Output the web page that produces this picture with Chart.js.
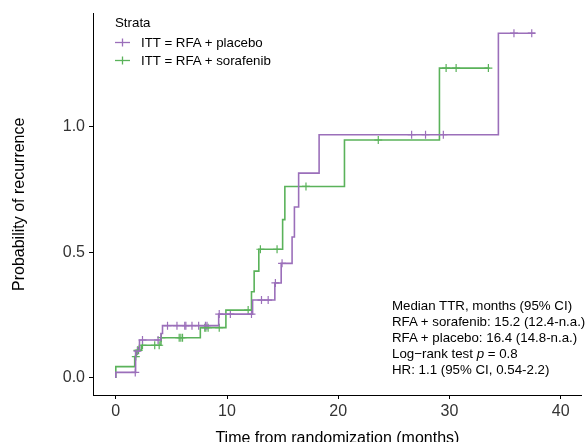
<!DOCTYPE html>
<html>
<head>
<meta charset="utf-8">
<script src="https://cdn.jsdelivr.net/npm/chart.js@4.4.1/dist/chart.umd.min.js"></script>
<style>
  body { margin: 0; background: #fff; font-family: "Liberation Sans", Arial, sans-serif; }
  #wrap { position: relative; width: 587px; height: 442px; }
  .txt { position: absolute; font-size: 13.3px; color: #000; white-space: nowrap; line-height: 16px; }
  .sym { position: absolute; width: 15px; height: 9px; }
  #note { left: 392px; top: 298px; }
</style>
</head>
<body>
<div id="wrap">
  <canvas id="kmChart" width="587" height="442"></canvas>
  <div class="txt" style="left:115px; top:15px;">Strata</div>
  <svg class="sym" style="left:115px; top:38px;" viewBox="0 0 15 9"><line x1="0" y1="4.5" x2="15" y2="4.5" stroke="#9b6fba" stroke-width="1.3"/><line x1="7.5" y1="0.5" x2="7.5" y2="8.5" stroke="#9b6fba" stroke-width="1.3"/></svg>
  <div class="txt" style="left:141px; top:35px;">ITT = RFA + placebo</div>
  <svg class="sym" style="left:115px; top:56px;" viewBox="0 0 15 9"><line x1="0" y1="4.5" x2="15" y2="4.5" stroke="#5ab25a" stroke-width="1.3"/><line x1="7.5" y1="0.5" x2="7.5" y2="8.5" stroke="#5ab25a" stroke-width="1.3"/></svg>
  <div class="txt" style="left:141px; top:53px;">ITT = RFA + sorafenib</div>
  <div class="txt" id="note">
    Median TTR, months (95% CI)<br>
    RFA + sorafenib: 15.2 (12.4-n.a.)<br>
    RFA + placebo: 16.4 (14.8-n.a.)<br>
    Log&minus;rank test <i>p</i> = 0.8<br>
    HR: 1.1 (95% CI, 0.54-2.2)
  </div>
</div>
<script>
// step curves: event times and cumulative probability after each event
var placeboTimes = [0, 0, 1.78, 2.13, 4.06, 4.2, 9.25, 12.3, 14.3, 14.87, 15.85, 16.06, 16.44, 18.28, 34.4, 37.7];
var placeboRisk  = [0, 0.022, 0.107, 0.151, 0.177, 0.208, 0.254, 0.31, 0.378, 0.456, 0.561, 0.68, 0.815, 0.968, 1.372, 1.372];
var placeboCensor = [1.75, 1.95, 2.4, 3.8, 4.65, 5.5, 6.2, 6.3, 6.85, 7.45, 8.06, 8.2, 9.3, 10.3, 12.2, 13.1, 13.7, 14.35, 14.95, 26.6, 27.85, 29.45, 35.8, 37.4];

var sorafenibTimes = [0, 0, 1.7, 1.85, 2.3, 4.06, 7.6, 9.9, 12.2, 12.44, 12.86, 15.0, 15.2, 20.56, 29.1, 33.6];
var sorafenibRisk  = [0, 0.045, 0.085, 0.11, 0.13, 0.16, 0.2, 0.27, 0.343, 0.425, 0.512, 0.63, 0.762, 0.947, 1.233, 1.233];
var sorafenibCensor = [1.8, 1.95, 2.05, 2.4, 3.5, 3.9, 4.1, 5.7, 5.85, 6.0, 8.0, 8.1, 8.3, 9.3, 11.9, 13.0, 14.5, 17.1, 23.6, 29.7, 30.6, 33.5];

var xTicks = [0, 10, 20, 30, 40];
var yTicks = [0, 0.5, 1.0];

var purple = '#9b6fba';
var green = '#5ab25a';

function stepPoints(times, risk) {
  return times.map(function (t, i) { return { x: t, y: risk[i] }; });
}

// censor marks sit on the curve value at that time
function censorPoints(cens, times, risk) {
  return cens.map(function (c) {
    var v = risk[0];
    for (var i = 0; i < times.length; i++) {
      if (times[i] <= c) v = risk[i];
    }
    return { x: c, y: v };
  });
}

var ctx = document.getElementById('kmChart').getContext('2d');

var myChart = new Chart(ctx, {
  type: 'line',
  data: {
    datasets: [
      {
        label: 'ITT = RFA + placebo',
        data: stepPoints(placeboTimes, placeboRisk),
        stepped: true,
        borderColor: purple,
        borderWidth: 1.6,
        pointRadius: 0,
        fill: false
      },
      {
        label: 'ITT = RFA + sorafenib',
        data: stepPoints(sorafenibTimes, sorafenibRisk),
        stepped: true,
        borderColor: green,
        borderWidth: 1.6,
        pointRadius: 0,
        fill: false
      },
      {
        type: 'scatter',
        data: censorPoints(placeboCensor, placeboTimes, placeboRisk),
        pointStyle: 'cross',
        pointRadius: 4,
        borderColor: purple,
        borderWidth: 1.2,
        showLine: false
      },
      {
        type: 'scatter',
        data: censorPoints(sorafenibCensor, sorafenibTimes, sorafenibRisk),
        pointStyle: 'cross',
        pointRadius: 4,
        borderColor: green,
        borderWidth: 1.2,
        showLine: false
      }
    ]
  },
  options: {
    responsive: false,
    animation: false,
    layout: { padding: { top: 13, left: 0, right: 0, bottom: 0 } },
    plugins: { legend: { display: false }, tooltip: { enabled: false } },
    scales: {
      x: {
        type: 'linear',
        min: -2.05,
        max: 41.9,
        afterBuildTicks: function (s) { s.ticks = xTicks.map(function (v) { return { value: v }; }); },
        afterFit: function (s) { s.height = 47; },
        grid: { display: true, drawOnChartArea: false, drawTicks: true, tickLength: 4, color: '#000' },
        border: { display: true, color: '#000', width: 1 },
        ticks: { color: '#333', font: { family: 'Liberation Sans', size: 16 }, padding: 3, maxRotation: 0 },
        title: { display: true, text: 'Time from randomization (months)', color: '#000', font: { family: 'Liberation Sans', size: 16 }, padding: { top: 0, bottom: -6 } }
      },
      y: {
        type: 'linear',
        min: -0.068,
        max: 1.45,
        afterBuildTicks: function (s) { s.ticks = yTicks.map(function (v) { return { value: v }; }); },
        afterFit: function (s) { s.width = 93; },
        grid: { display: true, drawOnChartArea: false, drawTicks: true, tickLength: 4, color: '#000' },
        border: { display: true, color: '#000', width: 1 },
        ticks: { color: '#333', font: { family: 'Liberation Sans', size: 16 }, padding: 4, callback: function (v) { return v.toFixed(1); } },
        title: { display: true, text: 'Probability of recurrence', color: '#000', font: { family: 'Liberation Sans', size: 16 }, padding: { top: 10, bottom: 0 } }
      }
    }
  }
});
</script>
</body>
</html>
